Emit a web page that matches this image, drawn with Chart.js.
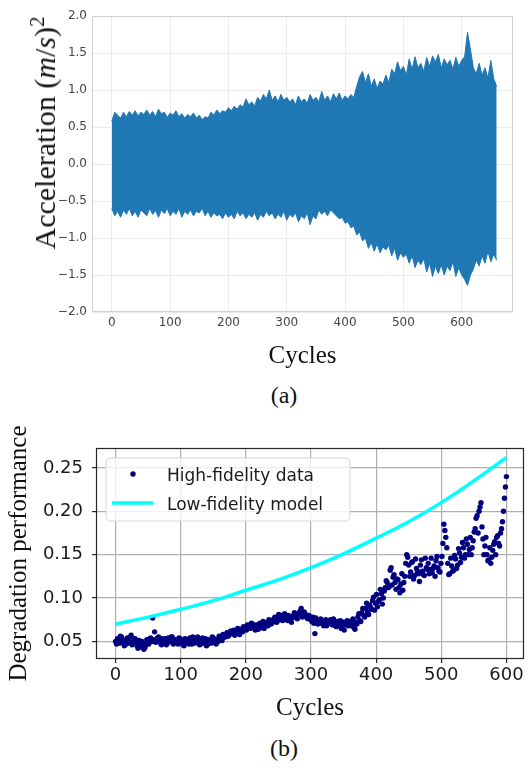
<!DOCTYPE html>
<html>
<head>
<meta charset="utf-8">
<title>Vibration signal and degradation</title>
<script src="https://cdn.jsdelivr.net/npm/chart.js@4.4.0/dist/chart.umd.min.js"></script>
<style>
  html, body { margin: 0; padding: 0; background: #fff; }
  body { position: relative; width: 530px; height: 768px; overflow: hidden; font-family: "Liberation Serif", "Times New Roman", serif; color: #111; }
  canvas { position: absolute; left: 0; }
  #accChart { top: 0; }
  #degChart { top: 410px; }
  .caption { position: absolute; left: 234px; width: 100px; text-align: center; font-size: 24px; line-height: 24px; }
  #accTitle { position: absolute; left: 41px; top: 133px; transform: translate(-50%, -50%) rotate(-90deg); font-size: 30px; line-height: 30px; white-space: nowrap; }
  #accTitle sup { font-size: 0.7em; }
</style>
</head>
<body>
<canvas id="accChart" width="530" height="375"></canvas>
<div id="accTitle">Acceleration (<i>m</i>/<i>s</i>)<sup>2</sup></div>
<div class="caption" style="top:383px">(a)</div>
<canvas id="degChart" width="530" height="320"></canvas>
<div class="caption" style="top:736px">(b)</div>

<script>
// (a) vibration signal, upper and lower envelope every 5 cycles
const accStep = 5;
const accUpper = [
  0.58,0.70,0.66,0.62,0.70,0.64,0.71,0.66,0.72,0.65,0.70,0.67,0.73,0.66,0.71,0.64,0.74,0.68,0.70,0.63,
  0.69,0.66,0.72,0.64,0.68,0.62,0.67,0.64,0.69,0.62,0.66,0.60,0.64,0.62,0.70,0.66,0.73,0.68,0.72,0.70,
  0.76,0.72,0.78,0.74,0.80,0.77,0.88,0.80,0.84,0.78,0.90,0.85,0.94,0.88,1.00,0.86,0.92,0.84,0.94,0.86,
  0.90,0.84,0.88,0.80,0.92,0.84,0.88,0.82,0.94,0.86,0.90,0.84,0.98,0.86,0.92,0.84,0.95,0.88,0.96,0.86,
  0.92,0.88,0.94,0.90,1.05,1.18,1.25,1.10,1.22,1.05,1.15,1.02,1.12,1.08,1.20,1.10,1.28,1.22,1.38,1.26,
  1.32,1.20,1.42,1.28,1.45,1.30,1.36,1.25,1.44,1.32,1.46,1.38,1.48,1.30,1.42,1.34,1.40,1.28,1.44,1.32,
  1.40,1.45,1.78,1.55,1.30,1.22,1.36,1.20,1.30,1.16,1.40,1.15,1.05
];
const accLower = [
  -0.60,-0.70,-0.64,-0.72,-0.62,-0.68,-0.60,-0.70,-0.64,-0.72,-0.62,-0.66,-0.70,-0.60,-0.68,-0.63,-0.72,-0.62,-0.67,-0.60,
  -0.70,-0.64,-0.68,-0.60,-0.72,-0.64,-0.68,-0.62,-0.70,-0.64,-0.66,-0.60,-0.70,-0.64,-0.72,-0.66,-0.70,-0.68,-0.74,-0.66,
  -0.72,-0.68,-0.74,-0.64,-0.70,-0.66,-0.74,-0.68,-0.72,-0.66,-0.76,-0.68,-0.72,-0.64,-0.70,-0.66,-0.74,-0.68,-0.72,-0.64,
  -0.76,-0.68,-0.72,-0.66,-0.78,-0.70,-0.74,-0.66,-0.82,-0.70,-0.74,-0.62,-0.68,-0.64,-0.70,-0.62,-0.66,-0.70,-0.74,-0.72,
  -0.80,-0.78,-0.86,-0.84,-0.96,-0.92,-1.04,-1.00,-1.14,-1.06,-1.18,-1.08,-1.20,-1.12,-1.16,-1.10,-1.24,-1.14,-1.30,-1.20,
  -1.26,-1.22,-1.34,-1.24,-1.40,-1.30,-1.36,-1.28,-1.46,-1.34,-1.52,-1.38,-1.48,-1.36,-1.50,-1.38,-1.44,-1.32,-1.52,-1.40,
  -1.50,-1.56,-1.64,-1.50,-1.42,-1.30,-1.38,-1.24,-1.34,-1.18,-1.32,-1.22,-1.30
];
const accYTicks = [-2, -1.5, -1, -0.5, 0, 0.5, 1, 1.5, 2];
const accXTicks = [0, 100, 200, 300, 400, 500, 600];

// (b) degradation indicator: readings every 3 cycles, plus the readings halfway between
const hfStep = 3;
const hfValues = [
  .050,.053,.048,.055,.051,.046,.054,.050,.057,.049,.053,.045,.051,.044,.048,.043,.052,.047,.054,.077,
  .061,.050,.055,.048,.053,.051,.046,.054,.050,.055,.048,.052,.047,.053,.050,.045,.052,.049,.054,.047,
  .052,.049,.055,.046,.051,.048,.053,.046,.050,.048,.054,.049,.052,.056,.053,.058,.055,.060,.057,.062,
  .059,.057,.062,.060,.064,.061,.066,.063,.068,.065,.070,.066,.069,.064,.071,.067,.065,.070,.068,.073,
  .071,.076,.073,.078,.075,.080,.076,.079,.074,.077,.072,.078,.080,.076,.083,.088,.079,.082,.077,.080,
  .075,.078,.059,.074,.071,.076,.070,.073,.068,.072,.075,.069,.072,.067,.071,.074,.068,.063,.071,.068,
  .073,.070,.066,.072,.078,.074,.083,.080,.088,.084,.092,.087,.101,.094,.090,.098,.105,.100,.112,.118,
  .113,.135,.124,.118,.122,.112,.116,.109,.125,.150,.138,.130,.142,.126,.134,.128,.138,.131,.126,.135,
  .140,.133,.129,.137,.143,.135,.130,.148,.185,.170,.140,.128,.137,.132,.145,.138,.152,.147,.158,.150,
  .162,.156,.150,.166,.180,.195,.200,.210,.168,.160,.150,.144,.140,.155,.165,.170,.163,.175,.188,.215,
  .240
];
const hfValuesMid = [
  .047,.051,.056,.049,.045,.052,.048,.055,.046,.051,.049,.042,.047,.050,.041,.046,.049,.053,.050,.052,
  .049,.054,.051,.046,.050,.053,.048,.051,.055,.047,.052,.049,.054,.051,.046,.053,.050,.047,.052,.055,
  .048,.053,.050,.047,.054,.050,.045,.052,.049,.055,.051,.047,.050,.054,.051,.055,.058,.056,.061,.059,
  .063,.060,.065,.058,.063,.067,.064,.069,.066,.071,.068,.063,.067,.070,.066,.073,.069,.072,.075,.070,
  .074,.078,.072,.081,.077,.074,.082,.077,.080,.075,.079,.083,.077,.081,.085,.078,.084,.080,.076,.078,
  .073,.071,.077,.070,.074,.072,.068,.075,.070,.073,.071,.076,.068,.073,.070,.065,.072,.069,.074,.070,
  .068,.076,.064,.070,.082,.073,.088,.078,.094,.081,.089,.097,.086,.104,.096,.110,.093,.108,.120,.112,
  .132,.115,.127,.110,.121,.106,.128,.118,.140,.147,.125,.141,.122,.145,.131,.119,.144,.127,.146,.133,
  .128,.146,.134,.125,.148,.131,.140,.163,.178,.158,.127,.146,.131,.149,.134,.157,.141,.164,.146,.168,
  .150,.170,.158,.176,.192,.175,.205,.182,.150,.170,.143,.158,.147,.162,.150,.172,.160,.180,.200,.228
];
const lfCycles = [0, 50, 100, 150, 200, 250, 300, 350, 400, 450, 500, 550, 600];
const lfValues = [0.070, 0.078, 0.087, 0.097, 0.109, 0.121, 0.135, 0.151, 0.169, 0.188, 0.210, 0.235, 0.262];
const degYTicks = [0.05, 0.10, 0.15, 0.20, 0.25];
const degXTicks = [0, 100, 200, 300, 400, 500, 600];

const BLUE = '#1f77b4';
const NAVY = '#000080';
const CYAN = '#00ffff';
const SANS = 'DejaVu Sans';
const SERIF = 'Liberation Serif';

const fixTicks = list => scale => { scale.ticks = list.map(v => ({ value: v })); };

// box around the plotting area (matplotlib spines)
const frame = {
  id: 'frame',
  afterDatasetsDraw(chart, args, opts) {
    const { ctx, chartArea: a } = chart;
    ctx.save();
    ctx.strokeStyle = opts.color;
    ctx.lineWidth = opts.width;
    ctx.strokeRect(a.left + 0.5, a.top + 0.5, a.right - a.left - 1, a.bottom - a.top - 1);
    ctx.restore();
  }
};

// legend inside the axes, upper left
const innerLegend = {
  id: 'innerLegend',
  afterDraw(chart) {
    const { ctx, chartArea: a } = chart;
    const [hf, lf] = chart.data.datasets;
    const x = a.left + 10, y = a.top + 10;
    ctx.save();
    ctx.beginPath();
    ctx.roundRect(x, y, 244, 63, 4);
    ctx.fillStyle = 'rgba(255,255,255,0.8)';
    ctx.fill();
    ctx.strokeStyle = '#d6d6d6';
    ctx.lineWidth = 1;
    ctx.stroke();

    ctx.fillStyle = NAVY;
    ctx.beginPath();
    ctx.arc(x + 27, y + 16, 2.7, 0, Math.PI * 2);
    ctx.fill();

    ctx.strokeStyle = CYAN;
    ctx.lineWidth = 3.5;
    ctx.beginPath();
    ctx.moveTo(x + 6, y + 45);
    ctx.lineTo(x + 47, y + 45);
    ctx.stroke();

    ctx.fillStyle = '#1a1a1a';
    ctx.font = '17px "' + SANS + '"';
    ctx.textBaseline = 'alphabetic';
    ctx.fillText(hf.label, x + 61, y + 23);
    ctx.fillText(lf.label, x + 61, y + 52);
    ctx.restore();
  }
};

const upperPts = accUpper.map((v, i) => ({ x: i * accStep, y: v }));
const lowerPts = accLower.map((v, i) => ({ x: i * accStep, y: v }));

new Chart(document.getElementById('accChart'), {
  type: 'line',
  data: {
    datasets: [
      { data: upperPts, borderColor: BLUE, backgroundColor: BLUE, borderWidth: 1, pointRadius: 0, fill: '+1' },
      { data: lowerPts, borderColor: BLUE, borderWidth: 1, pointRadius: 0, fill: false }
    ]
  },
  options: {
    responsive: false,
    animation: false,
    layout: { padding: { top: 16, right: 17, left: 0, bottom: 0 } },
    plugins: {
      legend: { display: false },
      tooltip: { enabled: false },
      frame: { color: '#cfcfcf', width: 1 }
    },
    scales: {
      x: {
        type: 'linear', min: -34, max: 688,
        afterBuildTicks: fixTicks(accXTicks),
        afterFit: s => { s.height = 63; },
        grid: { color: '#ececec', drawTicks: false },
        border: { display: false },
        ticks: { padding: 4, color: '#444', font: { family: SANS, size: 12 } },
        title: { display: true, text: 'Cycles', color: '#111', font: { family: SERIF, size: 25 }, padding: { top: 0, bottom: 4 } }
      },
      y: {
        min: -2, max: 2,
        afterBuildTicks: fixTicks(accYTicks),
        afterFit: s => { s.width = 92; },
        grid: { color: '#ececec', drawTicks: false },
        border: { display: false },
        ticks: { padding: 5, color: '#444', font: { family: SANS, size: 12 },
                 callback: v => v.toFixed(1).replace('-', '\u2212') }
      }
    }
  },
  plugins: [frame]
});

const hfPts = hfValues.map((v, i) => ({ x: i * hfStep, y: v }))
  .concat(hfValuesMid.map((v, i) => ({ x: i * hfStep + hfStep / 2, y: v })));
const lfPts = lfValues.map((v, i) => ({ x: lfCycles[i], y: v }));

new Chart(document.getElementById('degChart'), {
  type: 'scatter',
  data: {
    datasets: [
      { label: 'High-fidelity data', data: hfPts, backgroundColor: NAVY, borderColor: NAVY,
        pointRadius: 2.7, pointBorderWidth: 0, order: 2 },
      { type: 'line', label: 'Low-fidelity model', data: lfPts, borderColor: CYAN, borderWidth: 3.5,
        pointRadius: 0, tension: 0.4, fill: false, order: 1 }
    ]
  },
  options: {
    responsive: false,
    animation: false,
    layout: { padding: { top: 38, right: 6, left: 0, bottom: 0 } },
    plugins: {
      legend: { display: false },
      tooltip: { enabled: false },
      frame: { color: '#262626', width: 1.2 }
    },
    scales: {
      x: {
        type: 'linear', min: -30, max: 627,
        afterBuildTicks: fixTicks(degXTicks),
        afterFit: s => { s.height = 71; },
        grid: { color: '#b0b0b0', lineWidth: 1.2, tickColor: '#262626', tickLength: 4 },
        border: { display: false },
        ticks: { padding: 2, color: '#1a1a1a', font: { family: SANS, size: 18 } },
        title: { display: true, text: 'Cycles', color: '#111', font: { family: SERIF, size: 25 }, padding: { top: 0, bottom: 7 } }
      },
      y: {
        min: 0.0297, max: 0.273,
        afterBuildTicks: fixTicks(degYTicks),
        afterFit: s => { s.width = 96; },
        grid: { color: '#b0b0b0', lineWidth: 1.2, tickColor: '#262626', tickLength: 4 },
        border: { display: false },
        ticks: { padding: 9, color: '#1a1a1a', font: { family: SANS, size: 18 }, callback: v => v.toFixed(2) },
        title: { display: true, text: 'Degradation performance', color: '#111', font: { family: SERIF, size: 25 }, padding: { top: 4, bottom: 0 } }
      }
    }
  },
  plugins: [frame, innerLegend]
});
</script>
</body>
</html>
